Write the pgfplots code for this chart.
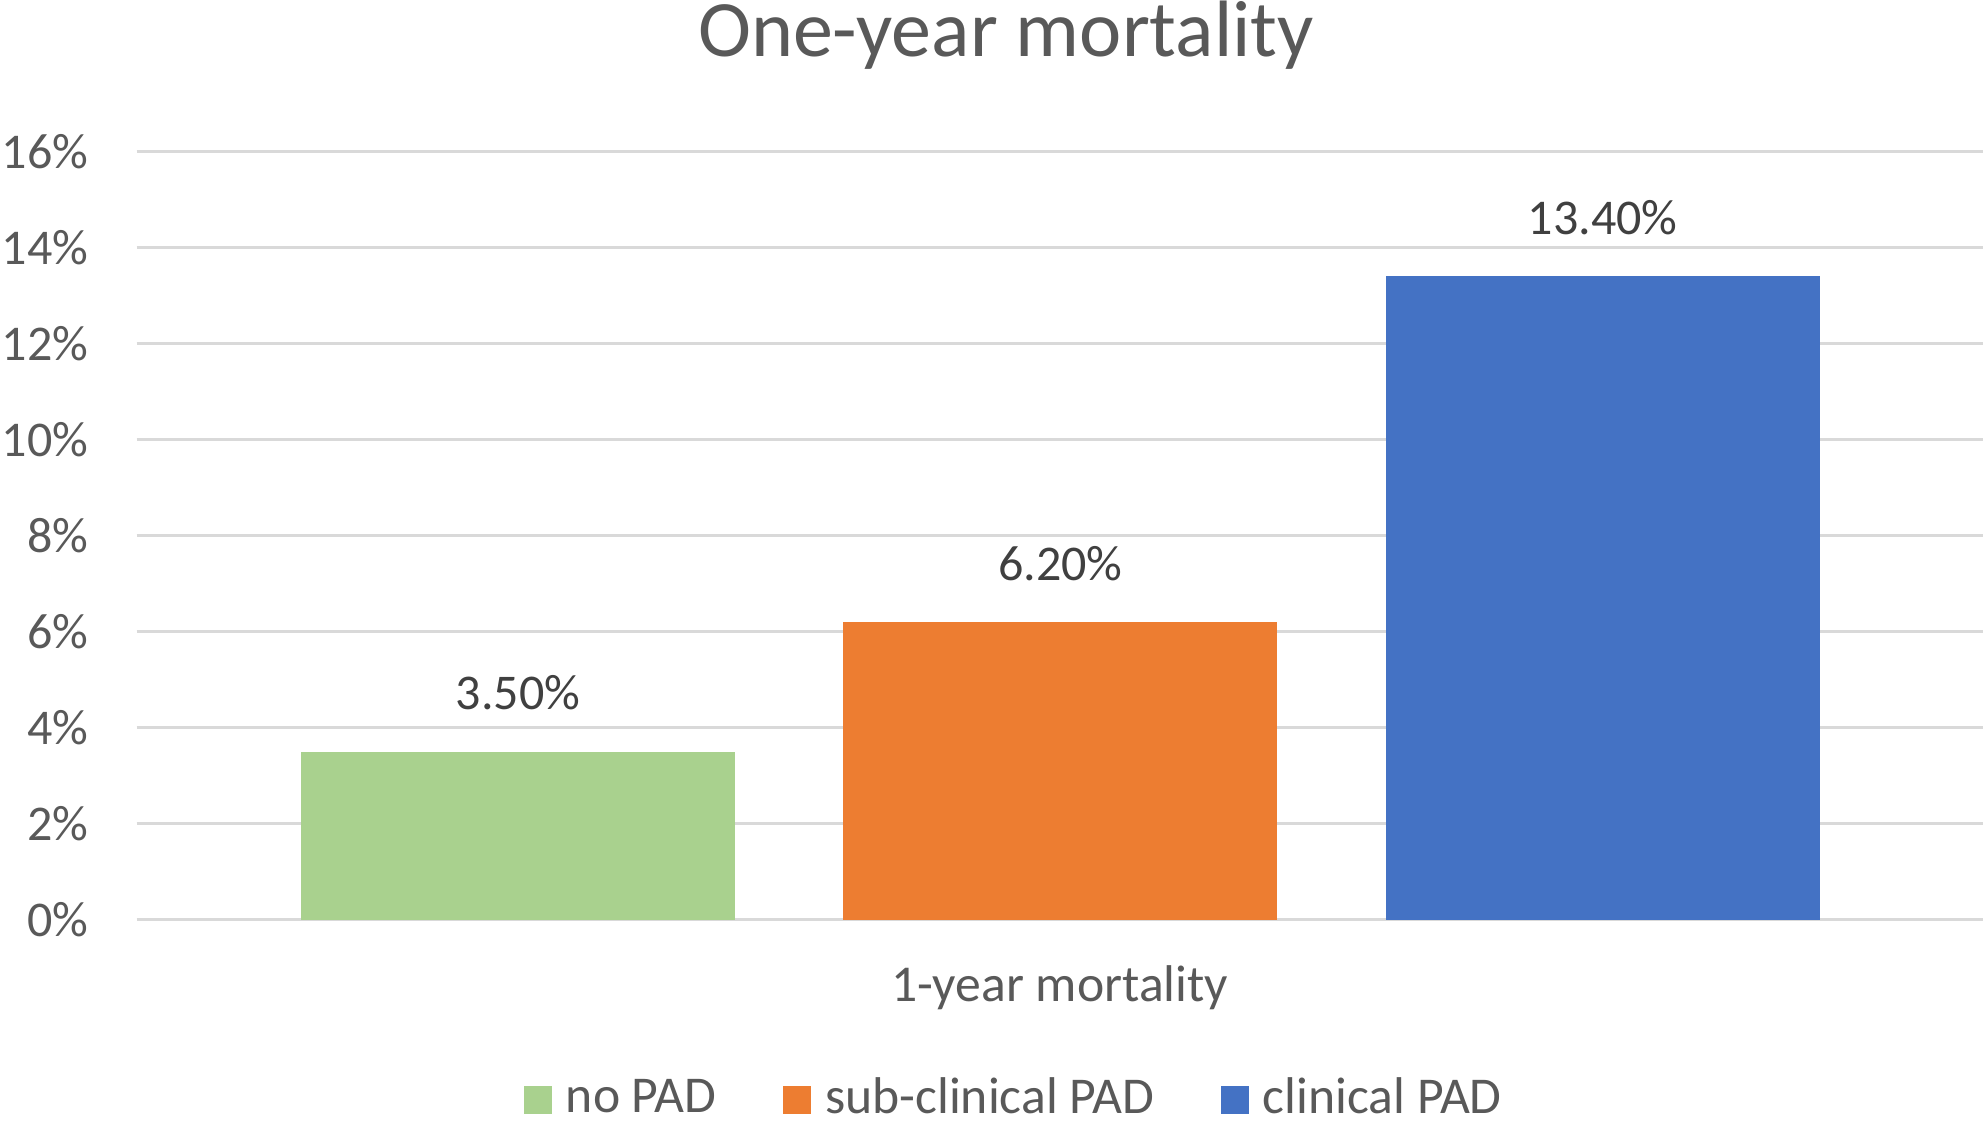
\documentclass[border=0pt]{standalone}
\usepackage{pgfplots}
\pgfplotsset{compat=1.18}
\usepackage{fontspec}
\setmainfont{Carlito}
\definecolor{cgreen}{HTML}{A9D18E}
\definecolor{corange}{HTML}{ED7D31}
\definecolor{cblue}{HTML}{4472C4}
\definecolor{cgrid}{HTML}{D9D9D9}
\definecolor{ctext}{HTML}{595959}
\definecolor{clabel}{HTML}{404040}
\begin{document}
\begin{tikzpicture}
\begin{axis}[
  at={(0,0)}, anchor=south west,
  scale only axis, width=554pt, height=230.5pt,
  xmin=-0.703, xmax=2.701, ymin=0, ymax=16,
  ytick={0,2,...,16}, xtick=\empty,
  yticklabel={\pgfmathprintnumber{\tick}\%},
  /pgf/number format/assume math mode=true,
  major tick length=0pt,
  axis line style={draw=none},
  ymajorgrids, grid style={cgrid, line width=0.9pt},
  yticklabel style={font=\fontsize{15}{18}\selectfont, text=ctext, inner sep=0pt, anchor=east, xshift=-14.3pt},
  ybar, bar width=130.2pt, bar shift=0pt,
  nodes near coords={\pgfmathprintnumber[fixed,fixed zerofill,precision=2]{\pgfplotspointmeta}\%},
  every node near coord/.append style={font=\fontsize{15}{18}\selectfont, text=clabel, inner sep=0pt, yshift=12.3pt},
  title={One-year mortality},
  title style={font=\fontsize{24}{28}\selectfont, text=ctext, at={(rel axis cs:0.4708,1)}, anchor=base, inner sep=0pt, yshift=22.4pt},
  xlabel={1-year mortality},
  xlabel style={font=\fontsize{15.5}{18}\selectfont, text=ctext, at={(rel axis cs:0.5,0)}, anchor=base, inner sep=0pt, yshift=-24.6pt},
  legend columns=3,
  legend image code/.code={\fill[#1] (0pt,-4.9pt) rectangle (8.4pt,3.5pt);},
  legend style={at={(rel axis cs:0.4746,0)}, anchor=south, yshift=-59.8pt, draw=none, fill=none, inner sep=0pt,
    font=\fontsize{15.5}{18}\selectfont, text=ctext,
    nodes={inner sep=0pt},
    /tikz/every odd column/.append style={column sep=4.2pt},
    /tikz/every even column/.append style={column sep=20pt}},
]
\addplot[fill=cgreen, draw=none] coordinates {(0,3.5)};
\addlegendentry{no PAD}
\addplot[fill=corange, draw=none] coordinates {(1,6.2)};
\addlegendentry{sub-clinical PAD}
\addplot[fill=cblue, draw=none] coordinates {(2,13.4)};
\addlegendentry{clinical PAD}
\end{axis}
\pgfresetboundingbox
\path[use as bounding box] (-40.98pt,-60.6pt) rectangle (554pt,276pt);
\end{tikzpicture}
\end{document}
